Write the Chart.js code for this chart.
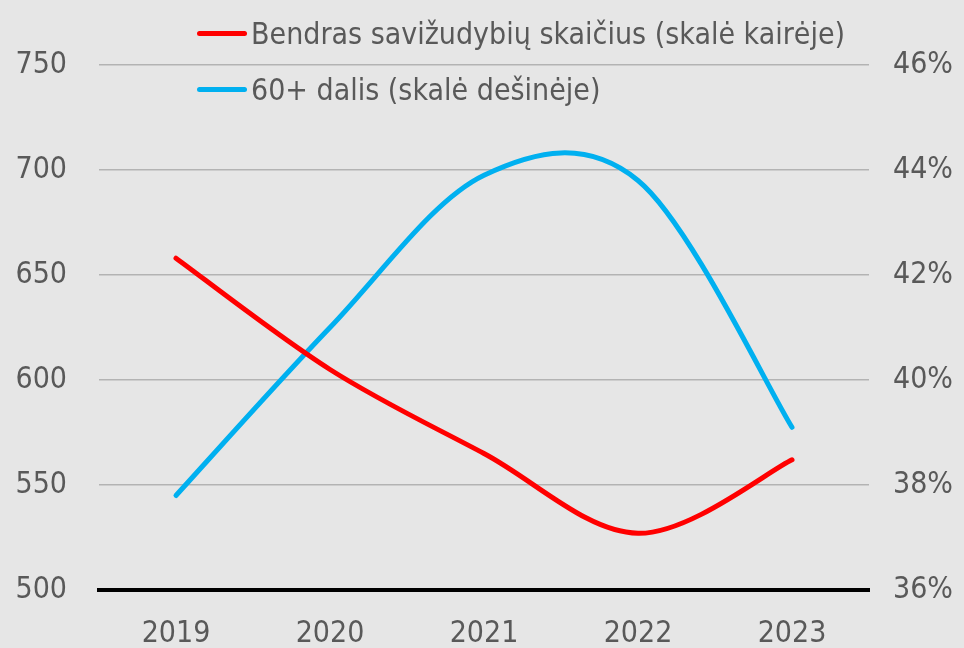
<!DOCTYPE html>
<html>
<head>
<meta charset="utf-8">
<script src="https://cdn.jsdelivr.net/npm/chart.js@4"></script>
<style>
  html, body { margin:0; padding:0; background:#e6e6e6; overflow:hidden; }
  #wrap { position:relative; width:964px; height:668px; }
  #legend { position:absolute; left:197px; top:5px; font-family:"DejaVu Sans Condensed",sans-serif; font-size:30px; color:#595959; }
  .item { display:flex; align-items:center; height:56px; white-space:nowrap; }
  .sw { width:50px; height:5px; border-radius:3px; margin-right:4px; }
</style>
</head>
<body>
<div id="wrap">
  <canvas id="c" width="964" height="668"></canvas>
  <div id="legend"></div>
</div>
<script>
const categories = ['2019','2020','2021','2022','2023'];
const totalSuicides = [658, 605, 565, 527, 562];
const share60plus = [37.8, 41.0, 43.9, 43.8, 39.1];
const seriesNames = ['Bendras savižudybių skaičius (skalė kairėje)', '60+ dalis (skalė dešinėje)'];
const seriesColors = ['#ff0000', '#00b0f0'];
const leftTicks = [500, 550, 600, 650, 700, 750];
const rightTicks = [36, 38, 40, 42, 44, 46];

const FONT = '"DejaVu Sans Condensed",sans-serif';

const leg = document.getElementById('legend');
seriesNames.forEach((n, i) => {
  const d = document.createElement('div');
  d.className = 'item';
  d.innerHTML = '<span class="sw" style="background:' + seriesColors[i] + '"></span><span>' + n + '</span>';
  leg.appendChild(d);
});

// Office-style smoothing: uniform Catmull-Rom control points on the library's point positions
const uniformSpline = {
  id: 'uniformSpline',
  beforeDatasetsDraw(chart) {
    chart.data.datasets.forEach((ds, di) => {
      const pts = chart.getDatasetMeta(di).data;
      const n = pts.length;
      for (let i = 0; i < n; i++) {
        const p = pts[i];
        const prev = pts[Math.max(0, i - 1)];
        const next = pts[Math.min(n - 1, i + 1)];
        const dx = (next.x - prev.x) / 6, dy = (next.y - prev.y) / 6;
        p.cp1x = p.x - dx; p.cp1y = p.y - dy;
        p.cp2x = p.x + dx; p.cp2y = p.y + dy;
      }
    });
  }
};

new Chart(document.getElementById('c'), {
  type: 'line',
  data: {
    labels: categories,
    datasets: [
      { label: seriesNames[0], data: totalSuicides, yAxisID: 'yL', borderColor: seriesColors[0], borderWidth: 5, tension: 0.4, pointRadius: 0, borderCapStyle: 'round', fill: false },
      { label: seriesNames[1], data: share60plus, yAxisID: 'yR', borderColor: seriesColors[1], borderWidth: 5, tension: 0.4, pointRadius: 0, borderCapStyle: 'round', fill: false }
    ]
  },
  options: {
    responsive: false,
    animation: false,
    layout: { padding: { top: 65, left: 0, right: 0, bottom: 0 } },
    plugins: { legend: { display: false }, tooltip: { enabled: false } },
    scales: {
      x: {
        offset: true,
        grid: { display: false, drawTicks: false },
        border: { display: true, color: '#000000', width: 4 },
        ticks: { color: '#595959', font: { family: FONT, size: 30 }, padding: 26, maxRotation: 0 },
        afterFit: s => { s.height = 668 - 590; }
      },
      yL: {
        position: 'left',
        min: 500, max: 750,
        afterBuildTicks: s => { s.ticks = leftTicks.map(v => ({ value: v })); },
        grid: { color: '#b3b3b3', lineWidth: 1.5, drawTicks: false },
        border: { display: false },
        ticks: { color: '#595959', font: { family: FONT, size: 30 }, padding: 32 },
        afterFit: s => { s.width = 99; }
      },
      yR: {
        position: 'right',
        min: 36, max: 46,
        afterBuildTicks: s => { s.ticks = rightTicks.map(v => ({ value: v })); },
        grid: { display: false, drawTicks: false },
        border: { display: false },
        ticks: { color: '#595959', font: { family: FONT, size: 30 }, padding: 24, callback: v => v + '%' },
        afterFit: s => { s.width = 964 - 869; }
      }
    }
  },
  plugins: [uniformSpline]
});
</script>
</body>
</html>
